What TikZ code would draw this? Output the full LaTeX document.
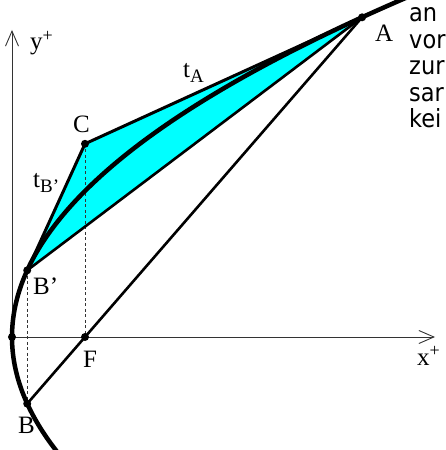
\documentclass[tikz,border=0pt]{standalone}
\usepackage{fontspec}
\setmainfont{Liberation Serif}
\newfontfamily\sansfnt{DejaVu Sans Condensed}
\usetikzlibrary{arrows.meta,calc}
\definecolor{aqua}{RGB}{0,255,255}
\begin{document}
\begin{tikzpicture}[x=1pt,y=1pt,
  lbl/.style={anchor=base west,inner sep=0pt,font=\fontsize{25}{25}\selectfont},
  side/.style={anchor=base west,inner sep=0pt,font=\sansfnt\fontsize{25}{26}\selectfont},
  dot/.style={circle,fill=black,inner sep=0pt,minimum size=8pt},
  axis/.style={line width=0.9pt,black!80,-{Straight Barb[length=15pt,width=13pt,line width=0.9pt]}},
  curve/.style={line width=4.5pt,line cap=round},
  tang/.style={line width=3pt,line cap=round},
  chord/.style={line width=2.6pt,line cap=round},
  dashline/.style={line width=0.9pt,black!80,dash pattern=on 3pt off 2.5pt}]
\useasboundingbox (-12,-113) rectangle (434,337);
\clip (-12,-113) rectangle (434,337);
% points
\coordinate (Op) at (0,0);
\coordinate (Fp) at (73,0);
\coordinate (Ap) at (350.1,319.7);
\coordinate (Bq) at (15.22,-66.67);
\coordinate (Bpp) at (15.22,66.67);
\coordinate (Cp) at (73,193.2);
\coordinate (Aext) at ($(Cp)!1.15!(Ap)$);
\coordinate (ytip) at (0,307);
\coordinate (xtip) at (423,0);
% cyan region
\fill[aqua] (Ap) -- (Cp) -- (Bpp) -- cycle;
% axes
\draw[axis] (Op) -- (ytip);
\draw[axis] (Op) -- (xtip);
% dashed
\draw[dashline] (Cp) -- (Fp);
\draw[dashline] (Bpp) -- (Bq);
% lines
\draw[chord] (Bpp) -- (Ap);
\draw[chord] (Ap) -- (Bq);
\draw[tang] (Bpp) -- (Cp);
\draw[tang] (Cp) -- (Aext);
% parabola
\draw[curve] plot[domain=-0.8:2.35,samples=140,smooth] ({73*\x*\x},{146*\x});
% dots
\node[dot] (A) at (Ap) {};
\node[dot] (C) at (Cp) {};
\node[dot] (Bprime) at (Bpp) {};
\node[dot] (B) at (Bq) {};
\node[dot] (F) at (Fp) {};
\node[dot] (O) at (Op) {};
% labels
\node[lbl] (ly) at (18,287) {y\raisebox{8pt}{\fontsize{18}{18}\selectfont +}};
\node[lbl] (lx) at (405,-28) {x\raisebox{9pt}{\fontsize{18}{18}\selectfont +}};
\node[lbl] (lC) at (61,204) {C};
\node[lbl] (lA) at (363,295) {A};
\node[lbl] (lBp) at (21,42) {B'};
\node[lbl] (lF) at (71,-30) {F};
\node[lbl] (lB) at (6,-96) {B};
\node[lbl] (ltA) at (171,259) {t\raisebox{-5pt}{\fontsize{19}{19}\selectfont A}};
\node[lbl] (ltB) at (21,149) {t\raisebox{-5pt}{\fontsize{19}{19}\selectfont B'}};
% side text
\node[side] (s1) at (397,315) {an};
\node[side] (s2) at (397,288.5) {vor};
\node[side] (s3) at (397,262) {zur};
\node[side] (s4) at (397,235.5) {sar};
\node[side] (s5) at (397,209) {kei};
\end{tikzpicture}
\end{document}
